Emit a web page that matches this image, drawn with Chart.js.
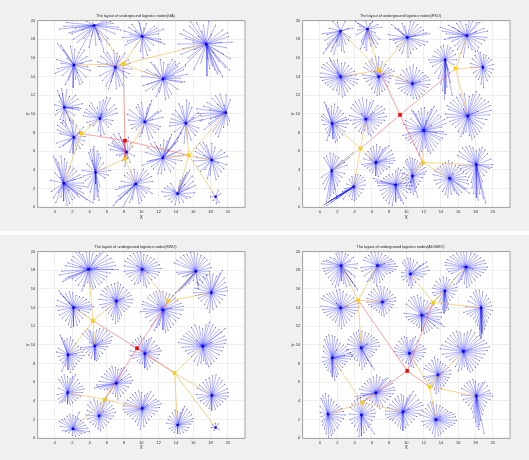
<!DOCTYPE html>
<html>
<head>
<meta charset="utf-8">
<script src="https://cdn.jsdelivr.net/npm/chart.js@4.4.0/dist/chart.umd.min.js"></script>
<style>
  html, body { margin: 0; padding: 0; background: #f0f0f0; }
  body { width: 529px; height: 460px; position: relative; overflow: hidden; }
  .strip { position: absolute; left: 0; top: 231px; width: 529px; height: 4px; background: #fff; }
  canvas { position: absolute; }
</style>
</head>
<body>
<div class="strip"></div>
<canvas id="ga" width="265" height="230" style="left:0;top:0"></canvas>
<canvas id="pso" width="264" height="230" style="left:265px;top:0"></canvas>
<canvas id="swo" width="265" height="229" style="left:0;top:231px"></canvas>
<canvas id="adgwo" width="264" height="229" style="left:265px;top:231px"></canvas>
<script>
// ---- GA layout ----
const gaHubs = [[4.54,19.5],[10.1,18.3],[17.5,17.5],[2.2,15.25],[7.0,15.0],[12.5,13.75],[1.08,10.7],[5.2,9.5],[10.4,9.15],[15.15,9.0],
  [19.8,10.15],[2.2,7.5],[8.3,5.9],[12.5,5.3],[18.15,5.07],[1.0,2.6],[4.7,3.75],[9.35,2.5],[14.2,1.46],[18.6,1.14]];
// customer offsets from each hub, flat dx,dy pairs
const gaSpokes = [
  [-4,-0.4,-3.2,0.3,-2.6,-0.9,-1.9,-1.8,-1.2,-1.4,-0.6,-2.4,0.2,-2.1,0.9,-1.7,1.6,-1.4,2.4,-0.9,1.9,0.4,1.3,0.5,2.8,-0.2,-0.9,0.4,-2.2,-0.3,-1.6,-2.6,0.5,-0.9,-3.5,-0.1,1.1,-2.6,-0.3,-1.2],
  [-2.1,0.6,-1.7,-0.5,-1.2,1.3,-0.4,1.6,0.5,1.4,1.4,1.1,2.5,0.8,2.1,-0.3,1.3,-0.9,0.6,-2.0,-0.2,-1.6,-0.9,-1.2,-2.3,-0.1,1.9,0.3,0.2,0.9,-1.4,0.2,2.6,-0.8],
  [-3.0,1.1,-2.4,0.6,-1.9,1.9,-1.1,2.3,-0.5,1.4,0.3,2.4,1.1,2.0,1.9,1.5,2.6,0.8,2.3,-0.4,2.8,-1.6,2.2,-2.5,1.5,-1.9,1.3,-3.2,0.7,-2.3,0.1,-3.4,-0.6,-2.0,-1.4,-2.7,-2.1,-1.5,-2.7,-0.5,-3.2,0.0,-1.3,-0.6,0.9,-0.9,1.8,0.2,-0.9,0.8,2.7,-2.8,1.9,-3.5,-1.8,2.4,0.6,1.0,-2.4,-2.2,3.0,0.2],
  [-1.9,2.3,-1.2,1.6,-0.4,2.0,0.6,1.4,1.5,0.9,2.0,0.5,1.9,-0.6,1.4,-1.3,0.7,-2.1,-0.1,-2.4,-0.6,-1.6,-1.3,-1.1,-1.9,-0.4,-2.0,0.6,0.4,-0.8,1.0,0.2,-0.8,0.7,0.2,-1.5],
  [-1.7,1.2,-0.9,1.6,-0.2,1.8,0.5,1.2,1.5,0.8,1.9,-0.2,1.3,-1.1,0.8,-1.9,0.1,-2.3,-0.5,-1.5,-1.1,-2.0,-1.8,-0.9,-2.0,0.1,-1.0,0.4,0.9,-0.5,0.3,0.7,-0.3,-0.8,1.1,1.5],
  [-2.4,0.3,-1.8,-0.6,-1.9,1.0,-1.0,1.5,-0.3,2.1,0.6,1.6,1.4,1.9,1.7,1.3,2.4,1.0,2.8,0.5,2.2,-0.4,1.7,-1.1,1.0,-1.6,0.3,-2.2,-0.4,-1.4,-1.2,-1.1,-2.0,-1.3,1.2,0.4,-0.8,0.5,2.0,0.1,0.5,-0.5,1.5,1.6],
  [-0.8,1.8,-0.2,1.5,0.6,1.2,1.6,0.9,2.1,0.4,1.7,-0.3,1.2,-0.9,0.6,-1.4,0.2,-2.0,-0.5,-1.3,-1.0,-0.8,-1.1,0.3,-0.6,0.6,1.0,-0.1,0.3,-0.5,-0.3,2.0],
  [-1.6,1.0,-1.0,1.7,-0.3,1.2,0.4,2.0,1.2,2.2,1.7,1.5,2.0,0.6,1.5,-0.2,1.0,-0.9,0.5,-1.7,-0.2,-1.3,-0.8,-0.8,-1.5,-0.4,-1.9,0.3,0.8,1.0,0.2,0.5],
  [-2.0,0.8,-1.6,-0.3,-1.0,1.6,-0.4,2.1,0.3,1.5,0.8,2.3,1.5,1.1,2.1,0.5,1.8,-0.5,1.2,-1.1,0.5,-1.9,-0.3,-1.2,-1.0,-0.8,-1.9,0.2,0.9,0.3,-0.6,0.5],
  [-1.7,0.5,-1.2,1.4,-0.4,1.8,0.1,2.5,0.7,1.7,1.4,1.2,1.9,0.4,1.5,-0.5,1.1,-1.3,0.6,-1.8,-0.2,-2.1,-0.6,-1.0,-1.3,-0.9,-1.9,-0.3,0.9,0.6,-0.8,0.8],
  [-3.2,-0.1,-2.6,0.7,-1.6,1.5,-0.7,2.0,0.5,1.4,-0.2,0.8,-1.2,-0.5,-2.0,-1.2,-1.5,-2.0,-0.9,-2.6,-0.3,-1.6,0.4,-0.9,-2.5,-1.8,-1.0,0.9,-3.0,-0.9,-1.9,0.3],
  [-1.9,1.3,-1.2,1.8,-0.5,2.0,0.3,1.3,1.1,1.1,1.3,0.1,1.0,-0.8,0.3,-1.3,-0.5,-1.6,-1.2,-0.9,-2.0,-0.6,-1.6,0.4,-0.6,-0.4,0.6,0.5],
  [-1.8,1.6,-1.4,0.7,-0.9,2.0,-0.4,1.2,0.2,1.6,-1.9,0.3,-1.2,-0.3,-0.5,-0.9,0.4,-1.1,0.9,-0.4,0.7,0.6,-0.2,-1.5,-1.6,1.2],
  [-2.0,0.6,-1.5,-0.3,-1.1,-1.2,-0.6,-1.7,0.2,-1.3,0.9,-1.5,1.5,-0.6,2.2,-0.3,2.0,0.8,1.4,1.6,1.0,2.5,0.5,1.8,-0.3,1.4,-1.0,1.7,-1.8,1.1,0.6,0.9,1.8,2.2,-2.4,-0.8,1.2,0.4],
  [-1.4,1.8,-1.9,0.9,-0.6,1.6,0.4,1.4,1.1,1.1,1.8,0.4,1.7,-0.5,1.1,-1.3,0.5,-2.1,-0.2,-1.6,-0.8,-1.0,-1.6,-0.7,-2.1,-0.1,0.8,-0.3,-0.9,0.5],
  [-1.2,2.9,-0.6,2.2,0.1,2.6,0.8,1.8,1.5,1.3,2.1,0.6,2.3,0.0,2.0,-0.6,1.6,-1.2,2.7,-1.8,1.0,-1.8,0.4,-2.4,-0.3,-1.5,-0.9,-2.1,-1.4,-0.9,-1.5,0.3,-1.0,1.1,0.6,-0.8,1.3,0.4,-0.4,0.6,1.8,-1.5,3.1,-2.0],
  [-0.8,2.1,-0.3,2.5,0.2,2.3,0.6,1.6,1.2,0.5,1.7,0.2,1.1,-0.6,0.5,-1.5,0.2,-2.6,-0.3,-3.3,-0.6,-2.1,-1.2,-0.9,-1.5,0.2,-1.0,0.9,0.0,-1.2,-0.4,1.3,0.4,-3.0],
  [-2.6,-2.3,-2.0,-1.3,-1.7,0.3,-1.3,0.9,-0.6,1.4,0.2,1.2,0.9,1.6,1.5,1.1,2.0,0.3,1.6,-0.5,1.0,-1.4,0.4,-2.1,-0.4,-1.6,-1.0,-1.0,-2.3,-0.6,1.9,-1.0,-1.5,-2.5,0.6,0.5],
  [-1.8,0.2,-1.2,0.8,-0.5,0.4,0.3,1.4,0.9,2.0,1.4,2.5,1.8,1.3,1.3,0.6,2.0,0.1,1.5,-0.4,0.7,-0.9,-0.3,-1.2,-1.0,-0.6,0.2,0.8,0.8,1.0,-1.5,-0.3],
  [0.3,0.7,-0.4,0.5,0.4,-0.6,-0.3,-0.4]
];
const gaSpokesB = [
  [-2.9,-0.8,-1.4,-0.5,0.6,-1.5,1.8,-2.1,2.2,0.2,-0.2,0.3,-2.4,-1.5,3.1,-0.5],
  [-1.6,1.0,-0.8,0.6,0.9,-1.5,1.7,0.9,-1.9,-0.9,0.1,-2.3,2.2,-0.6,-0.3,1.4],
  [-2.6,1.5,-1.5,0.2,0.2,-1.6,1.0,-2.8,2.0,-1.1,2.5,1.2,-0.3,2.0,-2.9,-1.1,1.5,-3.0,0.4,-2.6],
  [-1.5,2.1,0.1,1.7,1.2,1.6,1.6,-0.2,1.0,-1.9,-1.0,-2.1,-2.2,-0.9,-1.5,0.2],
  [-1.4,1.7,0.2,1.5,1.7,0.4,1.6,-0.7,0.5,-2.0,-0.8,-2.3,-1.5,-1.4,-2.1,0.6],
  [-2.2,0.8,-1.4,1.8,0.1,1.8,1.1,2.1,2.6,1.4,2.5,-0.3,0.7,-2.0,-0.8,-1.9,-2.3,-0.7,1.9,1.7],
  [-0.6,1.3,0.3,1.9,1.3,1.3,1.9,-0.1,0.9,-1.7,-0.2,-1.7,-0.9,-0.3,1.6,0.0],
  [-1.2,1.4,0.0,1.8,0.8,2.3,1.9,1.1,1.3,-0.6,0.1,-1.8,-1.2,-0.7,-1.8,0.7],
  [-1.8,1.3,-0.8,1.9,0.6,1.9,1.9,1.2,1.6,-0.8,0.9,-1.7,-0.6,-1.6,-1.5,-0.7],
  [-1.5,1.0,-0.8,2.1,0.4,2.2,1.7,0.9,1.3,-0.9,0.2,-1.6,-1.0,-1.6,-1.8,0.1],
  [-2.2,1.1,-1.2,1.8,0.0,1.9,-2.8,-0.4,-1.8,-0.7,-1.2,-2.3,0.2,-1.3,-3.4,0.4],
  [-1.5,1.6,-0.1,1.8,0.9,0.6,1.2,-0.4,0.7,-1.2,-0.1,-1.7,-1.7,-1.1,-1.9,0.8],
  [-1.5,1.9,-0.7,1.6,-1.7,1.0,0.5,1.0,-0.8,-0.4,0.1,-0.7,-2.1,0.8],
  [-1.8,-0.4,-1.3,-0.9,-0.2,-1.7,1.2,-1.1,2.4,0.3,1.7,1.8,0.8,2.1,0.1,1.9,-0.7,1.2,-1.4,1.5,2.1,2.6],
  [-1.8,1.3,-1.0,1.9,0.0,1.8,1.5,0.8,1.4,-0.9,0.8,-1.8,-0.5,-2.0,-1.3,-1.2,-1.8,0.3],
  [-0.9,2.6,-0.3,2.9,0.4,2.2,1.2,1.6,1.9,0.9,2.5,-0.4,1.3,-1.6,0.7,-2.2,0.0,-1.9,-0.6,-1.0,-1.2,-1.6,2.3,-1.1],
  [-0.6,2.4,0.4,2.0,0.9,1.0,1.5,-0.3,0.3,-2.0,-0.1,-2.9,-0.9,-1.6,-1.4,-0.4,-0.2,2.8],
  [-2.3,-1.9,-1.9,-0.3,-1.0,1.2,-0.2,1.6,1.2,1.4,1.8,0.8,1.3,-1.0,0.7,-1.8,-0.7,-2.0,-1.8,-1.6],
  [-1.5,0.6,-0.8,1.1,0.6,1.7,1.1,2.3,1.7,1.9,2.1,0.9,1.1,-0.5,0.2,-1.0,-0.7,-0.9],
  [0.1,-0.7,0.6,0.3,-0.6,0.0]
];
const gaYellow = [[7.9,15.35],[3.08,7.9],[8.1,5.2],[15.5,5.57]];
const gaLinks = [[0,1,2,3,4,5],[6,7,11,15],[8,12,16,17],[9,10,13,14,18,19]];
const gaRed = [8.1,7.14];

// ---- PSO layout ----
const psoHubs = [[2.4,18.9],[5.5,19.1],[10.1,18.2],[17.0,18.4],[14.5,15.8],[18.85,15.0],[2.4,14.0],[6.8,14.0],[10.7,13.25],[1.4,8.96],
  [5.3,9.43],[12.0,8.2],[17.1,9.8],[1.35,3.93],[3.9,2.2],[6.46,4.8],[8.77,2.4],[10.7,3.36],[15.0,3.1],[18.1,4.57]];
const psoSpokes = [
  [-2.0,-2.4,-1.5,-1.4,-0.8,-2.5,-0.2,-1.6,0.6,-1.4,1.1,-0.7,1.4,0.3,0.5,1.0,-0.4,0.9,-1.3,0.3,-2.1,-0.3,-1.8,-1.0,0.1,-2.1,-1.0,-1.8],
  [-1.4,0.8,-0.9,0.3,-0.5,-1.6,-0.1,-2.3,0.4,-1.8,1.0,-2.0,1.4,-1.1,0.9,-0.4,0.6,0.8,-0.2,0.9,-1.3,-0.6,1.6,0.2,0.2,-1.0,-0.8,-2.1],
  [-2.2,0.3,-1.6,-0.3,-1.2,-1.0,-0.6,-1.7,0.1,-2.1,0.7,-1.3,1.5,-0.9,2.4,-0.5,2.6,0.4,1.9,0.8,1.2,1.4,0.4,1.7,-0.3,1.2,-1.0,0.9,-1.8,1.4,1.0,0.2,-0.5,0.3],
  [-3.1,0.9,-2.4,0.2,-1.7,-0.6,-1.1,-1.5,-0.4,-2.3,0.2,-1.3,1.0,-1.7,1.7,-0.9,2.3,-0.2,2.0,0.8,1.5,1.4,0.7,1.6,-0.1,1.2,-0.8,1.6,-1.6,0.9,-2.6,-0.4,1.1,0.4,-1.0,0.5],
  [-1.4,0.4,-0.9,1.1,-0.2,1.6,0.6,1.3,1.2,0.6,1.0,-0.5,0.5,-1.4,0.2,-2.9,-0.1,-4.2,-0.3,-3.3,-0.8,-2.0,-1.5,-0.7,-1.9,0.0,0.8,-3.8,0.3,-1.0],
  [-0.6,1.8,0.1,1.4,0.7,1.0,1.2,0.3,1.0,-0.6,0.5,-1.4,0.1,-2.2,-0.5,-1.3,-1.1,-0.6,-1.4,0.4,-0.9,1.3,0.3,-0.4],
  [-2.2,1.0,-1.6,1.5,-0.8,1.7,0.1,1.4,0.9,1.2,1.6,0.6,2.0,-0.3,1.5,-0.9,0.8,-1.6,0.2,-2.2,-0.5,-1.5,-1.2,-1.1,-1.8,-0.7,-2.3,-0.1,1.2,0.1,-0.4,0.5,0.5,-0.6,-1.3,2.0],
  [-1.7,1.0,-1.1,1.6,-0.4,2.2,0.4,1.6,1.1,0.9,1.8,0.6,1.4,-0.2,1.0,-1.0,0.4,-1.6,-0.2,-2.0,-0.8,-1.3,-1.4,-0.5,-1.9,0.2,0.6,0.3,-0.5,0.6],
  [-1.9,0.4,-1.4,1.0,-0.7,1.6,0.1,2.0,0.8,1.4,1.5,0.9,2.0,0.4,1.8,-0.4,1.1,-1.1,0.5,-1.6,-0.2,-1.3,-0.9,-1.0,-1.6,-0.5,0.9,0.2,-0.6,0.3],
  [-0.9,2.3,-0.4,1.6,0.3,2.1,1.0,1.4,1.6,0.7,1.8,0.0,1.4,-0.8,0.9,-1.5,0.4,-2.0,-0.3,-1.3,-0.8,-0.6,-1.2,0.4,-1.0,1.0,0.6,-0.3,1.9,0.5,-0.6,-1.8],
  [-1.7,1.2,-1.2,1.9,-0.4,2.3,0.5,1.8,1.4,1.5,2.2,1.1,2.4,0.3,1.8,-0.4,1.2,-1.0,0.6,-1.8,-0.1,-1.2,-0.8,-1.3,-1.5,-0.5,-1.9,0.4,0.9,0.7,-0.5,0.6],
  [-2.3,0.7,-1.8,-0.2,-1.5,1.3,-0.9,1.8,-0.3,2.4,0.5,2.0,1.2,2.6,1.7,1.7,2.4,1.2,2.1,0.4,2.6,-0.4,1.9,-1.0,1.4,-1.7,0.8,-2.4,0.2,-1.8,-0.5,-2.6,-1.1,-1.5,-1.8,-1.0,-2.4,-0.5,0.9,0.6,-0.7,0.5,1.5,-0.2,0.3,1.1,-1.4,2.2],
  [-2.4,1.1,-1.7,1.7,-0.9,2.3,0.2,2.1,1.0,2.6,1.6,1.9,2.4,1.5,2.7,0.6,2.2,-0.4,1.6,-1.3,1.1,-2.0,0.5,-2.5,-0.2,-1.7,-0.8,-2.2,-1.4,-1.2,-2.1,-0.6,-2.6,0.2,1.2,0.5,-0.5,0.7,0.6,-0.8],
  [-0.9,1.4,-0.2,1.9,0.5,1.6,1.2,1.1,1.8,0.6,2.4,1.9,1.5,-0.3,0.9,-1.2,0.4,-2.0,-0.1,-2.7,-0.6,-3.3,-0.8,-2.0,-1.2,-0.7,0.6,-3.0],
  [-3.4,-1.9,-2.9,-1.6,-2.5,-1.4,-2.0,-1.0,-1.5,-0.9,-1.0,-0.2,-0.5,0.8,0.2,1.3,0.8,1.2,1.3,0.7,1.1,-0.3,0.6,-1.0,0.1,-1.5,-0.5,-1.0,-3.1,-2.0,-1.2,-1.3],
  [-1.6,-0.2,-1.2,0.9,-0.6,1.5,0.1,1.9,0.8,1.4,1.5,1.8,2.0,0.9,2.2,0.2,1.6,-0.5,0.9,-0.9,0.3,-1.5,-0.4,-1.1,-1.0,-0.6,1.2,0.4,-0.7,0.4],
  [-2.6,0.7,-2.0,-0.1,-1.6,-1.0,-1.1,-1.7,-0.4,-2.2,0.3,-1.4,0.9,-2.0,1.4,-0.8,1.9,-0.1,1.5,0.7,1.0,1.3,0.3,1.8,-0.4,1.2,-1.1,0.9,-1.7,0.4,0.7,0.2],
  [-0.8,1.6,-0.3,2.0,0.3,1.8,0.9,1.4,1.5,0.9,1.4,0.2,0.9,-0.6,0.5,-1.2,0.1,-2.0,-0.4,-1.4,-0.9,-0.8,-1.2,0.3,0.6,-2.3,-0.2,-0.6],
  [-1.9,0.4,-1.4,1.1,-0.8,1.5,-0.1,1.9,0.7,1.4,1.3,0.9,1.9,0.2,2.2,-0.6,1.7,-1.1,1.1,-1.8,2.3,-1.6,0.5,-1.3,-0.2,-2.0,-0.8,-1.4,-1.5,-0.6,0.4,0.5],
  [-2.2,1.0,-1.6,1.8,-0.8,2.0,0.0,1.5,0.7,1.9,1.3,1.2,1.9,0.0,1.5,-0.4,0.9,-1.2,0.5,-2.5,0.2,-3.8,-0.3,-3.1,-0.6,-1.9,-1.2,-1.0,-1.8,-0.4,1.1,-4.1,-0.9,0.3]
];
const psoSpokesB = [
  [-1.7,-1.9,-1.1,-2.2,-0.5,-1.1,0.9,-1.0,0.9,0.3,-0.9,1.0,-1.6,-0.4,0.4,-2.3],
  [-1.1,0.6,-0.7,-1.3,-0.3,-2.0,0.7,-1.5,1.2,-1.6,1.2,0.5,0.3,0.6,-1.1,-0.1],
  [-2.0,-0.2,-1.4,-0.6,-0.9,-1.4,0.4,-1.7,1.1,-1.2,2.0,-0.8,2.2,0.5,1.6,1.1,0.8,1.6,-0.6,1.5,-1.4,1.0],
  [-2.8,0.5,-2.0,-0.2,-1.4,-1.1,-0.7,-1.9,0.6,-1.5,1.4,-1.3,2.1,-0.5,2.4,0.5,1.2,1.4,0.3,1.6,-1.2,1.3,-2.1,1.1],
  [-1.2,0.9,-0.5,1.4,0.3,1.5,0.9,1.0,1.3,0.0,0.6,-2.4,0.0,-3.6,-0.5,-2.6,-1.2,-1.4,-1.7,-0.3],
  [-0.3,1.6,0.4,1.3,1.0,0.8,1.2,-0.2,0.8,-1.0,-0.2,-1.8,-0.8,-1.0,-1.3,0.0,-1.2,0.9],
  [-2.0,1.3,-1.2,1.7,-0.4,1.8,0.5,1.5,1.3,0.9,1.8,0.2,1.9,-0.7,1.1,-1.3,0.5,-2.0,-0.2,-1.9,-0.9,-1.4,-1.5,-0.9,-2.1,-0.4,-2.3,0.4],
  [-1.5,1.4,-0.8,1.9,0.0,2.1,0.8,1.3,1.5,0.8,1.6,0.1,1.2,-0.6,0.7,-1.4,0.1,-1.9,-0.5,-1.7,-1.1,-0.9,-1.7,-0.2],
  [-1.7,0.7,-1.1,1.4,-0.3,1.8,0.5,1.7,1.2,1.2,1.8,0.7,2.0,-0.1,1.4,-0.8,0.8,-1.4,0.1,-1.6,-0.6,-1.2,-1.3,-0.8,-1.9,0.0],
  [-0.7,2.0,-0.1,1.9,0.7,1.8,1.3,1.1,1.7,0.4,1.6,-0.4,1.2,-1.2,0.6,-1.8,0.1,-1.6,-0.6,-1.0,-1.0,-0.1,-1.2,0.8],
  [-1.5,1.6,-0.8,2.1,0.1,2.1,0.9,2.0,1.8,1.4,2.1,0.7,2.2,-0.1,1.5,-0.7,0.9,-1.4,0.3,-1.6,-0.5,-1.5,-1.2,-0.9,-1.8,-0.1],
  [-2.1,1.1,-1.2,2.1,-0.6,2.1,0.1,2.5,0.9,2.3,1.5,2.2,2.0,1.5,2.6,0.8,2.3,-0.1,2.2,-0.8,1.6,-1.4,1.1,-2.1,0.5,-2.2,-0.2,-2.2,-0.8,-1.9,-1.5,-1.3,-2.1,-0.8,-2.0,0.3],
  [-2.2,0.7,-2.0,1.4,-1.3,2.0,-0.4,2.4,0.6,2.3,1.4,2.3,2.0,1.7,2.6,1.1,2.5,0.1,1.9,-0.9,1.4,-1.7,0.8,-2.3,0.2,-2.1,-0.5,-1.9,-1.1,-1.7,-1.8,-0.9,-2.4,-0.2],
  [-0.6,1.6,0.2,1.8,0.8,1.4,1.5,0.9,2.1,1.4,1.2,-0.7,0.7,-1.6,0.2,-2.4,-0.3,-3.0,-1.0,-1.4],
  [-3.2,-1.8,-2.7,-1.5,-2.2,-1.2,-1.8,-1.2,-1.3,-0.5,-0.8,0.3,-0.2,1.1,0.5,1.3,1.1,1.0,1.3,0.2,0.9,-0.7,0.3,-1.3,-0.2,-1.4,-2.6,-1.7],
  [-1.4,0.4,-0.9,1.2,-0.3,1.7,0.5,1.7,1.1,1.6,1.8,1.3,2.1,0.5,1.9,-0.1,1.3,-0.7,0.6,-1.2,0.0,-1.4,-0.7,-0.9,-1.3,-0.4],
  [-2.3,0.4,-1.8,-0.6,-1.4,-1.4,-0.8,-2.0,0.0,-1.8,0.6,-1.7,1.2,-1.4,1.7,-0.5,1.8,0.3,1.3,1.0,0.6,1.6,0.0,1.5,-0.8,1.1,-1.4,0.7,-2.1,0.2],
  [-0.6,1.8,0.0,1.9,0.6,1.6,1.2,1.2,1.6,0.5,1.2,-0.2,0.7,-0.9,0.3,-1.7,-0.2,-1.8,-0.7,-1.1,-1.1,-0.3,-1.0,0.9],
  [-1.7,0.8,-1.1,1.3,-0.5,1.7,0.3,1.7,1.0,1.2,1.6,0.6,2.1,-0.2,2.0,-1.1,1.4,-1.5,0.8,-1.6,0.2,-1.7,-0.5,-1.7,-1.2,-1.0,-1.8,-0.2],
  [-2.0,1.4,-1.2,1.9,-0.4,1.8,0.4,1.7,1.0,1.6,1.7,0.6,1.8,-0.3,1.2,-0.8,0.7,-1.8,0.4,-3.1,0.0,-3.5,-0.5,-2.5,-0.9,-1.4,-1.5,-0.7,-2.0,-0.1,0.8,-3.6]
];
const psoYellow = [[6.85,14.7],[15.7,14.86],[4.7,6.3],[11.9,4.8]];
const psoLinks = [[0,1,2,6,7,8],[3,4,5,12],[9,10,13,14,15],[11,16,17,18,19]];
const psoRed = [9.27,9.9];

// ---- SWO layout ----
const swoHubs = [[3.9,18.1],[10.1,18.1],[16.3,17.9],[18.1,15.6],[2.15,14.0],[7.1,14.7],[12.5,13.76],[4.6,9.9],[1.5,8.96],[10.4,9.07],
  [17.1,9.86],[1.46,4.9],[7.1,5.9],[5.1,2.4],[2.1,1.0],[10.1,3.2],[14.2,1.43],[18.15,4.6],[18.6,1.15]];
const swoSpokes = [
  [-3.4,-0.6,-2.7,0.4,-2.0,1.0,-1.5,1.9,-0.7,1.6,0.1,1.9,0.9,1.5,1.7,1.9,2.6,1.2,3.1,0.4,2.5,-0.4,1.8,-1.1,1.2,-1.6,0.5,-2.1,-0.1,-1.4,-0.8,-2.3,-1.5,-1.2,-2.3,-0.8,-3.0,-1.3,1.0,0.2,-1.0,0.3,3.4,0.0],
  [-2.0,0.9,-1.4,1.5,-0.6,1.9,0.2,1.6,1.0,1.3,1.7,0.8,2.2,0.1,1.8,-0.6,1.1,-1.1,0.5,-1.9,-0.2,-1.3,-0.9,-1.6,-1.5,-0.8,-2.1,-0.2,0.7,-0.4,-0.6,0.4],
  [-2.5,0.9,-1.8,1.5,-1.0,1.8,-0.2,2.1,0.6,1.7,1.3,1.2,1.8,0.4,1.4,-0.4,0.8,-1.2,-0.3,-1.0,-1.2,-1.5,-1.9,-2.1,-2.6,-2.6,-1.5,-0.6,-2.2,-0.1,0.3,-1.9],
  [-1.7,1.1,-0.9,1.7,-0.2,2.1,0.6,1.8,1.3,2.4,1.6,1.1,1.9,0.2,1.3,-0.7,0.6,-1.5,-0.2,-2.1,-0.8,-1.3,-1.5,-0.6,-2.0,0.0],
  [-1.7,1.8,-1.2,1.2,-0.5,1.7,0.3,1.3,1.1,1.1,1.8,0.6,2.3,0.1,1.7,-0.5,1.0,-1.1,0.4,-1.9,-0.3,-2.1,-0.9,-1.4,-1.6,-0.8,-2.0,0.2,0.7,-0.3,-0.5,0.5],
  [-1.8,0.7,-1.3,1.4,-0.6,1.8,0.2,2.0,0.8,1.5,1.5,0.9,1.9,0.2,1.5,-0.6,0.9,-1.1,0.4,-1.9,-0.1,-2.4,-0.6,-1.6,-1.2,-1.0,-1.9,-0.4,0.8,0.3,-0.5,0.4],
  [-2.4,0.6,-1.9,-0.4,-1.8,1.3,-1.1,1.8,-0.4,2.1,0.4,1.8,1.1,1.5,1.7,1.0,2.4,0.4,2.1,-0.5,1.5,-1.2,0.9,-1.9,0.3,-2.4,-0.4,-1.6,-1.0,-2.2,-1.5,-1.2,-2.6,-0.2,1.0,0.2,-0.6,0.6,0.7,-0.7],
  [-1.4,1.3,-0.8,1.8,-0.2,1.4,0.6,1.9,1.4,1.6,2.0,1.0,1.8,0.3,1.2,-0.4,0.6,-1.1,0.2,-1.6,-0.4,-1.3,-1.0,-0.7,-1.6,-0.2,0.9,0.6,-0.6,0.4],
  [-0.9,2.1,-0.4,1.5,0.3,1.9,0.9,1.2,1.5,0.6,1.9,-0.1,1.3,-0.7,0.8,-1.3,0.3,-1.9,-0.3,-1.2,-0.9,-0.6,-1.3,0.3,-0.7,-1.8,1.0,0.1],
  [-1.6,0.9,-1.1,1.5,-0.5,1.9,0.2,1.4,0.8,1.7,1.4,0.9,1.9,0.3,1.5,-0.5,0.9,-1.0,0.3,-1.7,-0.3,-1.1,-0.9,-0.8,-1.7,-0.2,0.6,0.3],
  [-2.8,0.4,-2.2,1.1,-1.6,1.6,-0.9,2.3,0.0,1.9,0.8,2.6,1.5,2.0,2.2,1.5,2.7,0.7,2.4,-0.1,1.9,-0.9,1.3,-1.6,0.7,-2.2,0.1,-1.5,-0.6,-2.0,-1.3,-1.1,-2.0,-0.5,1.0,0.4,-0.7,0.6,2.6,1.9],
  [-1.0,1.4,-0.4,1.9,0.3,1.5,0.9,1.9,1.4,1.0,1.9,0.4,1.5,-0.4,0.9,-0.8,0.3,-1.3,-0.3,-0.9,-0.9,-1.1,-1.2,-0.2],
  [-2.3,-0.2,-1.7,0.7,-1.1,1.3,-0.5,1.8,0.2,1.5,0.9,1.7,1.5,1.0,1.9,0.3,1.4,-0.4,0.8,-1.1,0.2,-1.7,-0.4,-1.1,-1.0,-0.7,-1.9,-0.6,-2.5,-0.5,0.6,0.4],
  [-1.3,1.2,-0.6,1.8,0.2,1.4,0.9,1.8,1.5,1.1,1.9,0.4,1.4,-0.3,0.8,-1.0,0.2,-1.6,-0.4,-1.1,-1.0,-0.7,-1.5,0.1,0.5,0.5],
  [-1.6,0.8,-1.0,1.1,-0.4,1.6,0.3,1.3,0.9,0.9,1.4,0.4,1.9,-0.3,1.0,-0.5,0.3,-0.8,-0.5,-0.4,-1.2,-0.2,0.7,1.8],
  [-2.2,0.3,-1.7,0.9,-1.1,1.5,-0.4,1.9,0.3,1.4,1.0,1.8,1.6,1.0,2.2,0.5,1.7,-0.3,1.1,-0.9,0.5,-1.6,-0.2,-2.2,-0.8,-1.4,-1.4,-0.8,-2.0,-0.4,0.6,0.4],
  [-1.3,0.2,-0.9,0.9,-0.3,1.6,0.3,1.3,0.8,2.0,1.4,1.4,1.8,0.7,1.5,0.1,1.0,-0.6,0.3,-0.9,-0.4,-0.8,-1.0,-0.4],
  [-1.7,0.8,-1.0,1.4,-0.3,1.9,0.5,2.2,1.2,1.6,1.8,0.7,1.9,-0.1,1.3,-0.7,0.7,-1.2,0.0,-1.6,-0.6,-1.1,-1.3,-0.6,-1.8,0.1],
  [-0.4,0.3,0.3,0.4,-0.2,-0.3,0.4,-0.2]
];
const swoSpokesB = [
  [-3.1,-0.2,-2.4,0.7,-1.8,1.4,-1.1,1.8,-0.3,1.9,0.5,1.7,1.3,1.7,2.2,1.5,2.9,0.8,2.8,0.0,2.1,-0.8,1.5,-1.4,0.8,-1.9,0.2,-1.8,-0.5,-1.8,-1.2,-1.7,-1.9,-1.0,-2.7,-1.0],
  [-1.7,1.2,-1.0,1.7,-0.2,1.8,0.6,1.5,1.4,1.1,2.0,0.5,2.0,-0.3,1.5,-0.9,0.8,-1.5,0.2,-1.7,-0.5,-1.5,-1.2,-1.2,-1.8,-0.5,-2.1,0.4],
  [-2.2,1.2,-1.4,1.7,-0.6,2.0,0.2,1.9,1.0,1.5,1.6,0.8,1.6,0.0,1.1,-0.8,0.3,-1.5,-0.8,-1.3,-1.6,-1.8,-2.3,-2.3,-2.0,-0.3,-1.1,-0.5],
  [-1.4,1.4,-0.6,1.9,0.2,2.0,1.0,2.1,1.5,1.6,1.8,0.6,1.6,-0.3,1.0,-1.1,0.2,-1.8,-0.5,-1.7,-1.2,-0.9,-1.8,-0.3,-1.9,0.5],
  [-1.5,1.5,-0.9,1.5,-0.1,1.6,0.7,1.2,1.5,0.9,2.1,0.3,2.0,-0.2,1.4,-0.8,0.7,-1.5,0.0,-2.0,-0.6,-1.8,-1.3,-1.1,-1.8,-0.3,-1.9,0.8],
  [-1.6,1.1,-1.0,1.6,-0.2,1.9,0.5,1.8,1.2,1.2,1.7,0.6,1.8,-0.2,1.2,-0.9,0.6,-1.5,0.2,-2.2,-0.4,-2.0,-0.9,-1.3,-1.6,-0.7,-2.0,0.2],
  [-2.3,0.9,-2.2,0.1,-1.5,1.6,-0.8,2.0,0.0,2.0,0.8,1.7,1.4,1.3,2.1,0.7,2.3,0.0,1.8,-0.9,1.2,-1.6,0.6,-2.2,0.0,-2.1,-0.7,-1.9,-1.3,-1.7,-2.0,-0.8],
  [-1.1,1.6,-0.5,1.6,0.2,1.7,1.0,1.8,1.7,1.3,1.9,0.6,1.5,-0.1,0.9,-0.8,0.4,-1.4,0.0,-1.5,-0.7,-1.0,-1.3,-0.4],
  [-0.7,1.8,-0.1,1.7,0.6,1.6,1.2,0.9,1.7,0.3,1.6,-0.4,1.0,-1.0,0.6,-1.6,0.0,-1.6,-0.6,-0.9,-1.1,-0.2,-1.1,0.7],
  [-1.4,1.2,-0.8,1.7,-0.1,1.7,0.5,1.6,1.1,1.3,1.7,0.6,1.7,-0.1,1.2,-0.8,0.6,-1.4,0.0,-1.5,-0.6,-1.0,-1.3,-0.5,-1.7,0.3],
  [-2.5,0.8,-1.9,1.4,-1.3,2.0,-0.4,2.1,0.4,2.3,1.2,2.3,1.9,1.8,2.5,1.1,2.6,0.3,2.2,-0.5,1.6,-1.3,1.0,-1.9,0.4,-1.9,-0.2,-1.8,-1.0,-1.6,-1.7,-0.8,-2.4,-0.1],
  [-0.7,1.7,0.0,1.7,0.6,1.7,1.2,1.4,1.7,0.7,1.7,0.0,1.2,-0.6,0.6,-1.1,0.0,-1.2,-0.6,-1.0,-1.1,-0.7,-1.1,0.5],
  [-2.0,0.2,-1.4,1.0,-0.8,1.6,-0.1,1.7,0.6,1.6,1.2,1.4,1.7,0.7,1.7,0.0,1.1,-0.8,0.5,-1.4,-0.1,-1.4,-0.7,-0.9,-1.4,-0.7,-2.2,-0.4],
  [-1.0,1.5,-0.2,1.6,0.6,1.6,1.2,1.5,1.7,0.8,1.7,0.0,1.1,-0.7,0.5,-1.3,-0.1,-1.4,-0.7,-0.9,-1.3,-0.3,-1.4,0.6],
  [-1.3,1.0,-0.7,1.4,0.0,1.5,0.6,1.1,1.2,0.7,1.7,0.1,1.4,-0.4,0.7,-0.7,-0.1,-0.7,-0.9,-0.3,-1.5,0.3],
  [-2.0,0.6,-1.4,1.2,-0.8,1.7,-0.1,1.7,0.6,1.6,1.3,1.4,1.9,0.8,2.0,0.1,1.4,-0.6,0.8,-1.2,0.2,-1.9,-0.5,-1.8,-1.1,-1.1,-1.7,-0.6,-2.2,-0.1],
  [-1.1,0.6,-0.6,1.3,0.0,1.5,0.6,1.7,1.1,1.7,1.6,1.1,1.7,0.4,1.3,-0.3,0.7,-0.8,0.0,-0.9,-0.7,-0.6],
  [-1.4,1.1,-0.7,1.7,0.1,2.1,0.9,1.9,1.5,1.2,1.9,0.3,1.6,-0.4,1.0,-1.0,0.4,-1.5,-0.3,-1.4,-0.9,-0.9,-1.6,-0.3],
  [0.0,0.5,-0.5,0.0]
];
const swoYellow = [[13.1,14.7],[4.4,12.6],[5.75,4.16],[13.85,7.0]];
const swoLinks = [[1,2,3,6],[0,4,5,7,8],[11,12,13,14,15],[9,10,16,17,18]];
const swoRed = [9.5,9.64];

// ---- ADGWO layout ----
const adgwoHubs = [[2.46,18.5],[6.65,18.5],[10.46,17.6],[16.9,18.35],[14.46,15.8],[18.65,14.0],[2.4,13.97],[7.23,14.6],[11.77,13.2],[4.77,9.7],
  [1.42,8.6],[10.35,9.09],[16.6,9.3],[13.65,6.8],[6.46,4.87],[18.1,4.54],[0.92,2.6],[4.8,2.5],[9.6,2.83],[13.4,2.0]];
const adgwoSpokes = [
  [-2.3,0.2,-1.8,-0.9,-1.2,-1.6,-0.7,-2.3,0.0,-1.6,0.6,-2.2,1.3,-1.8,1.9,-2.6,1.2,-0.9,1.8,-0.3,1.1,0.5,0.5,1.3,-0.3,1.5,-0.8,0.8,-1.7,0.6,-2.1,-0.3,0.3,-0.8],
  [-1.6,0.6,-1.0,1.1,-0.3,1.5,0.5,1.3,1.2,0.9,1.9,0.5,2.3,-0.1,1.8,-0.6,1.1,-0.9,0.6,-1.5,-0.1,-2.1,-0.6,-1.4,-1.2,-1.7,-1.8,-0.6,0.8,0.2],
  [-0.9,1.2,-0.3,1.7,0.4,1.5,1.1,0.9,1.9,1.3,2.2,0.4,1.4,-0.3,0.6,-0.9,0.1,-1.5,-0.4,-0.8,-1.0,-0.3,-0.6,0.4],
  [-2.4,0.5,-1.8,1.1,-1.1,1.5,-0.3,1.7,0.6,1.5,1.3,1.2,2.1,0.7,2.5,0.0,2.0,-0.6,1.3,-1.1,0.7,-1.7,0.1,-2.2,-0.5,-1.3,-1.1,-1.8,-1.7,-0.7,-2.2,-0.2,0.8,-0.2],
  [-1.2,0.6,-0.6,1.3,0.2,1.4,0.8,0.9,1.4,0.4,1.1,-0.4,0.6,-1.0,0.2,-1.8,-0.1,-2.4,-0.4,-1.4,-0.9,-0.8,-1.4,-0.2,0.4,-2.0],
  [-2.0,-0.5,-1.5,0.7,-0.9,1.6,-0.2,1.9,0.6,1.3,1.1,0.6,1.3,-0.3,0.9,-1.1,0.5,-1.9,0.2,-2.8,-0.2,-2.3,-0.6,-1.5,-1.2,-0.9,0.0,-3.2],
  [-2.2,1.0,-1.6,1.5,-0.9,1.7,-0.1,2.0,0.7,1.5,1.5,1.1,2.1,0.5,1.9,-0.3,1.3,-0.9,0.7,-1.6,0.1,-2.2,-0.6,-1.5,-1.2,-1.0,-1.9,-0.5,-2.3,0.2,0.8,0.2,-0.5,0.5],
  [-1.8,0.4,-1.3,1.1,-0.6,1.7,0.2,1.6,0.9,1.1,1.5,0.5,1.3,-0.3,0.8,-0.9,0.2,-1.5,-0.4,-1.1,-1.0,-0.7,-1.6,-0.3,0.6,0.3],
  [-1.8,1.2,-1.2,1.9,-0.5,2.1,0.3,1.6,1.0,1.3,1.7,0.8,2.3,0.3,2.0,-0.5,2.6,-1.2,1.5,-1.1,0.9,-1.6,0.3,-2.0,-0.3,-1.3,-0.9,-0.9,-1.5,-0.5,-2.0,0.2,0.7,0.2],
  [-1.5,0.9,-0.9,1.5,-0.3,1.9,0.5,1.6,1.2,1.3,1.8,0.9,2.1,0.2,1.5,-0.5,1.0,-1.0,0.6,-1.7,0.1,-2.3,-0.5,-1.4,-1.1,-0.9,-1.7,-0.2,1.5,-2.3,0.7,0.4],
  [-0.9,2.0,-0.4,2.5,0.3,2.3,0.9,1.6,1.6,1.2,2.1,0.6,2.4,0.2,1.7,-0.4,1.2,-1.0,0.7,-1.7,0.3,-2.4,-0.2,-1.5,-0.7,-1.0,-1.1,-0.4,-1.0,0.7,1.4,0.3,0.5,0.9],
  [-1.7,0.6,-1.2,1.3,-0.6,1.8,0.1,1.4,0.7,1.8,1.3,1.0,1.9,0.5,1.6,-0.3,1.0,-0.8,0.5,-1.5,-0.1,-1.1,-0.8,-0.7,-1.5,-0.2,0.5,0.3],
  [-2.7,0.3,-2.1,1.1,-1.5,1.7,-0.8,2.2,0.1,1.9,0.9,2.3,1.6,1.6,2.4,1.2,3.0,0.5,2.5,-0.3,1.9,-1.0,1.4,-1.7,0.8,-2.2,0.1,-1.6,-0.6,-2.1,-1.2,-1.1,-2.0,-0.6,1.0,0.3,-0.7,0.6],
  [-1.6,0.7,-1.0,1.2,-0.4,1.9,0.3,1.4,0.9,1.0,1.5,0.5,1.3,-0.3,0.9,-0.9,0.4,-1.5,-0.2,-2.0,-0.6,-1.2,-1.1,-0.6,-1.7,-0.2,0.6,0.3],
  [-1.9,0.4,-1.3,1.0,-0.7,1.5,0.1,1.9,0.8,1.4,1.4,1.6,1.9,1.0,2.2,0.3,1.7,-0.4,1.1,-1.0,0.5,-1.7,-0.1,-1.2,-0.7,-0.8,-1.4,-0.3,-2.3,-0.4,0.6,0.3],
  [-1.7,0.8,-1.1,1.4,-0.4,1.8,0.3,1.3,1.0,1.5,1.5,0.6,1.9,0.0,1.2,-0.7,0.8,-1.5,0.5,-2.6,0.3,-3.6,-0.1,-2.8,-0.4,-1.8,-0.9,-1.0,-1.5,-0.4,0.9,-4.0],
  [-0.8,1.7,-0.3,2.2,0.4,1.6,1.0,1.0,1.6,0.6,2.0,-0.1,1.5,-0.8,1.1,-1.5,0.6,-2.1,0.1,-2.5,-0.4,-1.6,-0.7,-0.8,-0.9,0.2,0.5,-0.5],
  [-1.3,0.8,-0.8,1.5,-0.1,1.9,0.6,1.3,1.3,0.9,1.6,0.2,1.2,-0.6,0.8,-1.3,0.3,-1.9,-0.3,-2.3,-0.8,-1.2,-1.3,-0.5,1.5,-2.0],
  [-2.0,0.1,-1.5,0.8,-0.9,1.4,-0.2,1.9,0.5,1.5,1.2,2.2,1.8,1.3,2.3,0.7,1.9,-0.2,1.3,-0.8,0.6,-1.4,0.0,-2.0,-0.6,-1.5,-1.2,-0.9,-1.8,-0.6,0.7,0.3],
  [-1.8,0.5,-1.2,1.2,-0.6,1.9,0.1,1.6,0.8,1.3,1.4,0.9,2.1,0.6,2.4,-0.1,1.9,-0.6,1.2,-1.0,0.6,-1.5,-0.1,-1.8,-0.7,-1.1,-1.4,-0.6,0.5,0.4]
];
const adgwoSpokesB = [
  [-2.1,0.5,-2.0,-0.6,-1.5,-1.3,-1.0,-2.0,-0.3,-2.1,0.3,-1.9,1.0,-2.1,1.6,-2.2,1.6,-1.2,1.9,0.2,1.4,0.9,0.8,1.2,0.1,1.4,-0.6,1.3,-1.3,0.9],
  [-1.4,0.9,-0.7,1.4,0.1,1.5,0.9,1.1,1.6,0.7,2.1,0.2,2.1,-0.4,1.5,-0.8,0.8,-1.2,0.3,-1.8,-0.4,-1.8,-0.9,-1.6,-1.5,-1.1,-1.9,-0.2],
  [-0.7,1.5,0.0,1.7,0.8,1.3,1.5,1.1,2.0,0.8,1.8,0.0,1.0,-0.6,0.3,-1.2,-0.2,-1.2,-0.8,-0.6,-1.0,0.2],
  [-2.2,0.8,-1.5,1.3,-0.7,1.7,0.1,1.7,1.0,1.4,1.7,1.0,2.3,0.4,2.3,-0.3,1.7,-0.9,1.0,-1.4,0.4,-2.0,-0.2,-1.8,-0.8,-1.6,-1.4,-1.3,-2.0,-0.5,-2.4,0.2],
  [-1.0,1.0,-0.2,1.5,0.5,1.2,1.1,0.7,1.3,0.0,0.9,-0.7,0.4,-1.4,0.1,-2.1,-0.3,-2.0,-0.6,-1.1,-1.2,-0.5,-1.4,0.3],
  [-1.8,0.1,-1.2,1.2,-0.6,1.8,0.2,1.7,0.9,1.0,1.2,0.2,1.1,-0.7,0.7,-1.5,0.4,-2.3,0.1,-2.6,-0.4,-1.9,-0.9,-1.2,-1.6,-0.7,-0.2,-3.0],
  [-2.0,1.3,-1.3,1.6,-0.5,1.9,0.3,1.8,1.1,1.3,1.8,0.8,2.1,0.1,1.6,-0.6,1.0,-1.3,0.4,-1.9,-0.2,-1.9,-0.9,-1.3,-1.6,-0.8,-2.1,-0.2],
  [-1.6,0.8,-1.0,1.4,-0.2,1.7,0.6,1.4,1.2,0.8,1.5,0.1,1.1,-0.6,0.5,-1.2,-0.1,-1.4,-0.7,-0.9,-1.3,-0.5,-1.8,0.0],
  [-1.5,1.6,-0.9,2.0,-0.1,1.9,0.7,1.5,1.4,1.1,2.0,0.6,2.3,-0.2,2.3,-0.9,1.9,-1.4,1.2,-1.4,0.6,-1.8,0.0,-1.7,-0.6,-1.1,-1.2,-0.7,-1.8,-0.2],
  [-1.2,1.2,-0.6,1.7,0.1,1.8,0.9,1.5,1.5,1.1,2.0,0.6,1.8,-0.2,1.3,-0.8,0.8,-1.4,0.4,-2.0,-0.2,-1.9,-0.8,-1.2,-1.4,-0.6,-1.6,0.4,1.2,-2.0],
  [-0.7,2.3,0.0,2.4,0.6,2.0,1.3,1.4,1.9,0.9,2.3,0.4,2.1,-0.1,1.5,-0.7,1.0,-1.3,0.5,-2.0,0.0,-2.0,-0.5,-1.3,-0.9,-0.7,-1.1,0.1,-1.0,1.3],
  [-1.5,0.9,-0.9,1.6,-0.3,1.7,0.4,1.6,1.0,1.4,1.6,0.8,1.8,0.1,1.3,-0.6,0.8,-1.2,0.2,-1.4,-0.4,-1.0,-1.1,-0.4,-1.7,0.2],
  [-2.5,0.7,-1.8,1.4,-1.2,2.0,-0.4,2.1,0.5,2.1,1.3,2.0,2.0,1.4,2.7,0.9,2.8,0.1,2.2,-0.7,1.7,-1.4,1.1,-2.0,0.5,-1.9,-0.2,-1.9,-0.9,-1.6,-1.6,-0.9,-2.4,-0.3],
  [-1.4,1.0,-0.7,1.6,0.0,1.7,0.6,1.2,1.2,0.8,1.5,0.1,1.1,-0.6,0.7,-1.2,0.1,-1.8,-0.4,-1.6,-0.9,-0.9,-1.5,-0.4],
  [-1.6,0.7,-1.0,1.3,-0.3,1.7,0.5,1.7,1.1,1.5,1.7,1.3,2.1,0.6,2.0,-0.1,1.4,-0.7,0.8,-1.4,0.2,-1.5,-0.4,-1.0,-1.1,-0.6,-1.7,-0.1,-2.1,-0.6],
  [-1.4,1.1,-0.8,1.6,-0.1,1.6,0.7,1.4,1.3,1.1,1.7,0.3,1.6,-0.4,1.0,-1.1,0.7,-2.0,0.4,-3.1,0.1,-3.3,-0.3,-2.3,-0.6,-1.4,-1.2,-0.7,-1.7,0.1],
  [-0.6,2.0,0.1,2.0,0.7,1.3,1.3,0.8,1.8,0.3,1.8,-0.5,1.3,-1.2,0.8,-1.8,0.4,-2.3,-0.2,-2.1,-0.6,-1.2,-0.8,-0.3,-0.9,0.8],
  [-1.1,1.2,-0.5,1.7,0.3,1.6,0.9,1.1,1.5,0.6,1.5,-0.2,1.0,-1.0,0.6,-1.6,0.0,-2.2,-0.5,-1.7,-1.1,-0.9,-1.4,0.1],
  [-1.8,0.5,-1.2,1.1,-0.6,1.7,0.1,1.7,0.8,1.8,1.5,1.8,2.1,1.0,2.2,0.2,1.6,-0.5,1.0,-1.1,0.3,-1.7,-0.3,-1.8,-0.9,-1.2,-1.5,-0.8,-2.0,-0.3],
  [-1.5,0.9,-0.9,1.6,-0.3,1.8,0.5,1.5,1.1,1.1,1.8,0.8,2.3,0.3,2.2,-0.4,1.6,-0.8,0.9,-1.3,0.3,-1.7,-0.4,-1.5,-1.0,-0.8,-1.6,-0.2]
];
const adgwoYellow = [[4.42,14.8],[13.1,14.56],[12.7,5.5],[4.9,3.83]];
const adgwoLinks = [[0,1,6,7,9],[2,3,4,5,8],[11,12,13,15,19],[10,14,16,17,18]];
const adgwoRed = [10.1,7.22];

const xTicks = [0, 2, 4, 6, 8, 10, 12, 14, 16, 18, 20];
const FONT = 'Liberation Sans, Arial, sans-serif';

// white plot box with a grey frame round it
const axesBox = {
  id: 'axesBox',
  beforeDraw(chart) {
    const a = chart.chartArea, ctx = chart.ctx;
    ctx.save();
    ctx.fillStyle = '#ffffff';
    ctx.fillRect(a.left, a.top, a.right - a.left, a.bottom - a.top);
    ctx.restore();
  },
  afterDraw(chart) {
    const a = chart.chartArea, ctx = chart.ctx;
    ctx.save();
    ctx.strokeStyle = '#8c8c8c';
    ctx.lineWidth = 0.8;
    ctx.strokeRect(a.left, a.top, a.right - a.left, a.bottom - a.top);
    ctx.restore();
  }
};

const gap = {x: NaN, y: NaN};

function buildChart(id, name, hubs, spokes, spokesB, yellow, links, red) {
  const canvas = document.getElementById(id);
  const H = canvas.height;

  const spokeLines = [], ends = [];
  hubs.forEach((h, i) => {
    const s = spokes[i].concat(spokesB[i]);
    for (let k = 0; k < s.length; k += 2) {
      const e = {x: h[0] + s[k], y: h[1] + s[k + 1]};
      spokeLines.push({x: h[0], y: h[1]}, e, gap);
      ends.push(e);
    }
  });
  const orangeLines = [];
  yellow.forEach((y, i) => {
    links[i].forEach(j => orangeLines.push({x: y[0], y: y[1]}, {x: hubs[j][0], y: hubs[j][1]}, gap));
  });
  const redLines = [];
  yellow.forEach(y => redLines.push({x: red[0], y: red[1]}, {x: y[0], y: y[1]}, gap));

  const seg = (data, color, w) => ({
    data, showLine: true, borderColor: color, borderWidth: w, pointRadius: 0, spanGaps: false
  });

  return new Chart(canvas, {
    type: 'scatter',
    data: {
      datasets: [
        {data: [{x: red[0], y: red[1]}], pointStyle: 'rect', pointRadius: 2.2, backgroundColor: '#ff0000', borderColor: '#e00000', borderWidth: 0.5},
        {data: yellow.map(p => ({x: p[0], y: p[1]})), pointStyle: 'rect', pointRadius: 2.1, backgroundColor: '#ffd400', borderColor: '#f0c000', borderWidth: 0.5},
        {data: hubs.map(p => ({x: p[0], y: p[1]})), pointStyle: 'rect', pointRadius: 1.3, backgroundColor: '#0000ff', borderColor: '#0000cc', borderWidth: 0.4},
        seg(redLines, 'rgba(255,80,80,0.6)', 0.9),
        seg(orangeLines, 'rgba(243,188,78,0.8)', 0.8),
        {data: ends, pointRadius: 0.5, backgroundColor: 'rgba(10,10,130,0.7)', borderWidth: 0},
        seg(spokeLines, 'rgba(20,20,255,0.5)', 0.65)
      ]
    },
    options: {
      responsive: false,
      animation: false,
      events: [],
      layout: {padding: {left: 26, right: canvas.width - 245, top: 0, bottom: 10}},
      plugins: {
        legend: {display: false},
        tooltip: {enabled: false},
        title: {
          display: true,
          text: 'The layout of underground logistics nodes(' + name + ')',
          color: '#222',
          font: {family: FONT, size: 3.8, weight: 'normal', lineHeight: 1.2},
          padding: {top: 14.1, bottom: 2}
        }
      },
      scales: {
        x: {
          type: 'linear', min: -2, max: 22,
          afterBuildTicks: s => { s.ticks = xTicks.map(v => ({value: v})); },
          afterFit: s => { s.height = H - 10 - 207.3; },
          grid: {color: '#e4e4e4', lineWidth: 0.6, drawTicks: false},
          border: {display: false},
          ticks: {color: '#333', padding: 2.2, font: {family: FONT, size: 4}},
          title: {display: true, text: 'X', color: '#333', padding: 0, font: {family: FONT, size: 4.6, lineHeight: 1.2}}
        },
        y: {
          type: 'linear', min: 0, max: 20,
          ticks: {stepSize: 2, color: '#333', padding: 2.5, font: {family: FONT, size: 4}},
          afterFit: s => { s.width = 11.7; },
          grid: {color: '#e4e4e4', lineWidth: 0.6, drawTicks: false},
          border: {display: false},
          title: {display: true, text: 'Y', color: '#333', padding: 0, font: {family: FONT, size: 4.6, lineHeight: 1.2}}
        }
      }
    },
    plugins: [axesBox]
  });
}

buildChart('ga', 'GA', gaHubs, gaSpokes, gaSpokesB, gaYellow, gaLinks, gaRed);
buildChart('pso', 'PSO', psoHubs, psoSpokes, psoSpokesB, psoYellow, psoLinks, psoRed);
buildChart('swo', 'SWO', swoHubs, swoSpokes, swoSpokesB, swoYellow, swoLinks, swoRed);
buildChart('adgwo', 'ADGWO', adgwoHubs, adgwoSpokes, adgwoSpokesB, adgwoYellow, adgwoLinks, adgwoRed);
</script>
</body>
</html>
